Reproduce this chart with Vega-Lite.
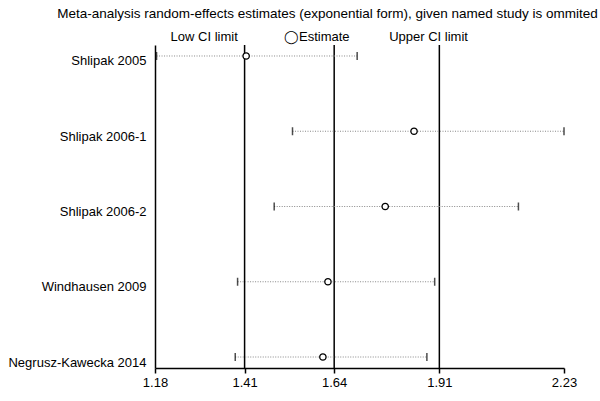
{
  "$schema": "https://vega.github.io/schema/vega-lite/v6.json",
  "width": 409,
  "height": 323,
  "autosize": "none",
  "padding": {"left": 155, "top": 45, "right": 36, "bottom": 33},
  "background": "white",
  "title": {
    "text": "Meta-analysis random-effects estimates (exponential form), given named study is ommited",
    "font": "Liberation Sans",
    "fontSize": 13.5,
    "fontWeight": "normal",
    "color": "black",
    "anchor": "middle",
    "dx": -32,
    "offset": 10
  },
  "config": {
    "font": "Liberation Sans",
    "view": {"stroke": null},
    "axis": {
      "labelFont": "Liberation Sans",
      "labelFontSize": 13,
      "labelColor": "black",
      "domainColor": "black",
      "tickColor": "black",
      "grid": false,
      "title": null
    }
  },
  "datasets": {
    "studies": [
      {"study": "Shlipak 2005", "low": 1.184, "est": 1.414, "high": 1.699},
      {"study": "Shlipak 2006-1", "low": 1.533, "est": 1.845, "high": 2.23},
      {"study": "Shlipak 2006-2", "low": 1.486, "est": 1.771, "high": 2.113},
      {"study": "Windhausen 2009", "low": 1.392, "est": 1.624, "high": 1.898},
      {"study": "Negrusz-Kawecka 2014", "low": 1.386, "est": 1.611, "high": 1.878}
    ],
    "pooled": [
      {"v": 1.41, "kind": "Low CI limit"},
      {"v": 1.64, "kind": "Estimate"},
      {"v": 1.91, "kind": "Upper CI limit"}
    ],
    "legend": [
      {"pos": 1.305, "label": "Low CI limit"},
      {"pos": 1.594, "label": "◯Estimate"},
      {"pos": 1.881, "label": "Upper CI limit"}
    ]
  },
  "layer": [
    {
      "data": {"name": "pooled"},
      "mark": {"type": "rule", "color": "black", "strokeWidth": 1.5},
      "encoding": {
        "x": {
          "field": "v",
          "type": "quantitative",
          "scale": {"domain": [1.18, 2.23], "nice": false, "zero": false},
          "axis": {
            "orient": "bottom",
            "values": [1.18, 1.41, 1.64, 1.91, 2.23],
            "format": ".2f",
            "tickSize": 5,
            "tickWidth": 1.5,
            "domainWidth": 1.5,
            "labelPadding": 3,
            "labelFlush": false
          }
        }
      }
    },
    {
      "data": {"name": "studies"},
      "mark": {"type": "rule", "color": "#888888", "strokeWidth": 1, "strokeDash": [1, 1.5]},
      "encoding": {
        "x": {"field": "low", "type": "quantitative", "axis": null},
        "x2": {"field": "high"},
        "y": {
          "field": "study",
          "type": "nominal",
          "sort": null,
          "scale": {"type": "point", "padding": 0.146},
          "axis": {
            "domainWidth": 1.5,
            "ticks": false,
            "labelPadding": 9,
            "labelOffset": 5
          }
        }
      }
    },
    {
      "data": {"name": "studies"},
      "mark": {"type": "tick", "color": "black", "thickness": 1.5, "size": 8},
      "encoding": {
        "x": {"field": "low", "type": "quantitative", "axis": null},
        "y": {"field": "study", "type": "nominal", "sort": null}
      }
    },
    {
      "data": {"name": "studies"},
      "mark": {"type": "tick", "color": "black", "thickness": 1.5, "size": 8},
      "encoding": {
        "x": {"field": "high", "type": "quantitative", "axis": null},
        "y": {"field": "study", "type": "nominal", "sort": null}
      }
    },
    {
      "data": {"name": "studies"},
      "mark": {"type": "point", "shape": "circle", "filled": true, "fill": "white", "stroke": "black", "strokeWidth": 1.3, "size": 40, "opacity": 1},
      "encoding": {
        "x": {"field": "est", "type": "quantitative", "axis": null},
        "y": {"field": "study", "type": "nominal", "sort": null}
      }
    },
    {
      "data": {"name": "legend"},
      "mark": {"type": "point", "opacity": 0},
      "encoding": {
        "x": {
          "field": "pos",
          "type": "quantitative",
          "axis": {
            "orient": "top",
            "values": [1.305, 1.594, 1.881],
            "domain": false,
            "ticks": false,
            "labelPadding": 2,
            "labelExpr": "datum.value < 1.4 ? 'Low CI limit' : datum.value < 1.7 ? '◯Estimate' : 'Upper CI limit'"
          }
        }
      }
    }
  ],
  "resolve": {"axis": {"x": "independent"}}
}
